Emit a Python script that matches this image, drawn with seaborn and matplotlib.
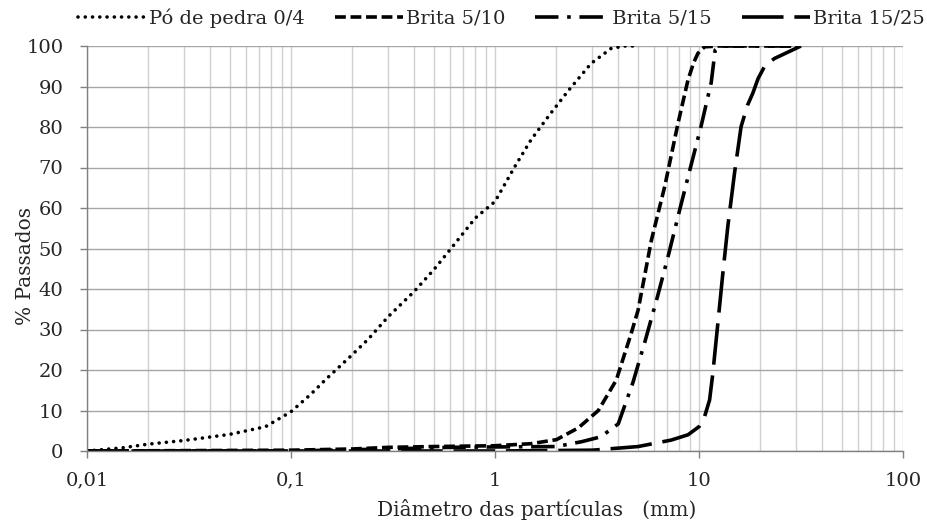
import numpy as np
import pandas as pd
import matplotlib
matplotlib.use("Agg")
import matplotlib.pyplot as plt
import seaborn as sns
from matplotlib.ticker import FixedLocator, LogLocator, NullFormatter

# ---- data ----
po_x = [0.01, 0.015, 0.02, 0.03, 0.05, 0.075, 0.1, 0.125, 0.149, 0.196, 0.239, 0.3, 0.4, 0.5, 0.6, 0.8, 1.0, 1.25, 1.5, 1.85, 2.29, 2.96, 3.71, 4.3, 5.0]
po_y = [0.0, 0.8, 1.7, 2.6, 4.1, 6.0, 9.7, 14.0, 17.8, 23.4, 27.6, 33.2, 39.3, 44.7, 49.6, 57.5, 61.6, 70.2, 76.8, 83.0, 89.0, 95.7, 99.4, 100.0, 100.0]

b510_x = [0.01, 0.1, 0.2, 0.3, 0.5, 1.0, 1.5, 2.0, 2.56, 3.21, 3.93, 4.65, 5.03, 5.84, 6.79, 7.89, 8.83, 9.4, 9.88, 10.65, 12.5, 31.5]
b510_y = [0.0, 0.2, 0.5, 0.9, 1.1, 1.3, 1.8, 2.8, 5.7, 10.0, 17.5, 29.0, 34.8, 52.0, 65.3, 80.9, 91.6, 95.8, 98.2, 99.8, 100.0, 100.0]

b515_x = [0.01, 0.1, 0.3, 0.6, 1.0, 2.0, 2.66, 3.3, 4.02, 4.75, 5.46, 6.25, 7.1, 8.0, 9.06, 10.25, 11.48, 12.0, 12.8, 31.5]
b515_y = [0.0, 0.0, 0.5, 0.9, 1.0, 1.1, 2.3, 3.5, 6.7, 17.0, 27.4, 38.0, 48.6, 59.1, 69.8, 80.3, 91.0, 99.0, 100.0, 100.0]

b1525_x = [0.01, 1.0, 3.0, 5.03, 7.31, 8.83, 10.0, 10.65, 11.27, 11.69, 12.37, 13.09, 13.84, 14.93, 16.08, 17.3, 18.34, 19.5, 20.93, 23.4, 31.6]
b1525_y = [0.0, 0.0, 0.2, 1.1, 2.7, 4.0, 6.0, 8.5, 12.6, 19.2, 31.5, 43.9, 55.4, 68.6, 80.1, 85.4, 88.3, 92.0, 94.9, 96.9, 100.0]

labels = ["Pó de pedra 0/4", "Brita 5/10", " Brita 5/15", "Brita 15/25"]
x_ticks = [0.01, 0.1, 1, 10, 100]
x_ticklabels = ["0,01", "0,1", "1", "10", "100"]
y_ticks = list(range(0, 101, 10))

sns.set_theme(style="white")
plt.rcParams["font.family"] = ["DejaVu Serif"]

W, H = 927, 522
fig = plt.figure(figsize=(W / 100, H / 100), dpi=100)
ax = fig.add_axes([87 / W, 1 - 451 / H, (903 - 87) / W, (451 - 46) / H])

series = [(po_x, po_y), (b510_x, b510_y), (b515_x, b515_y), (b1525_x, b1525_y)]
styles = [
    dict(linestyle=(0, (0.01, 2.0)), dash_capstyle="round"),
    dict(linestyle=(0, (3.0, 1.3)), dash_capstyle="butt"),
    dict(linestyle=(0, (6.5, 2.4, 1.0, 2.4)), dash_capstyle="butt"),
    dict(linestyle=(0, (11.5, 3.0)), dash_capstyle="butt"),
]
lw = 2.6
for (xs, ys), lab, st in zip(series, labels, styles):
    df = pd.DataFrame({"d": xs, "p": ys})
    sns.lineplot(data=df, x="d", y="p", ax=ax, color="black", linewidth=lw,
                 sort=False, estimator=None, label=lab, **st)

ax.set_xscale("log")
ax.set_xlim(0.01, 100)
ax.set_ylim(0, 100)
ax.xaxis.set_major_locator(FixedLocator(x_ticks))
ax.set_xticklabels(x_ticklabels)
ax.xaxis.set_minor_locator(LogLocator(base=10, subs=np.arange(2, 10)))
ax.xaxis.set_minor_formatter(NullFormatter())
ax.set_yticks(y_ticks)

ax.grid(True, which="major", axis="y", color="#a6a6a6", lw=1.0)
ax.grid(True, which="both", axis="x", color="#d0d0d0", lw=1.0)
ax.set_axisbelow(True)

for s in ["top", "right"]:
    ax.spines[s].set_visible(False)
for s in ["left", "bottom"]:
    ax.spines[s].set_color("#808080")
    ax.spines[s].set_linewidth(1.0)

ax.tick_params(axis="x", which="major", direction="out", length=5, width=1,
               color="#808080", labelsize=14, pad=10, bottom=True)
ax.tick_params(axis="x", which="minor", length=0)
ax.tick_params(axis="y", which="major", direction="out", length=5, width=1,
               color="#808080", labelsize=14, pad=12, left=True)

ax.set_xlabel("Diâmetro das partículas   (mm)", fontsize=14.5)
ax.xaxis.set_label_coords((537 - 87) / 816, -(510 - 451) / 405)
ax.xaxis.label.set_va("center")
ax.set_ylabel("% Passados", fontsize=14.5)
ax.yaxis.set_label_coords(-(87 - 26) / 816, (451 - 266) / 405)
ax.yaxis.label.set_va("center")

# legend: fit to the span measured on the reference (x 78 .. 925)
handles, labs = ax.get_legend_handles_labels()
if ax.get_legend():
    ax.get_legend().remove()
leg_kw = dict(loc="center left", bbox_to_anchor=(78 / W, 1 - 18 / H),
              bbox_transform=fig.transFigure, ncol=4, frameon=False, fontsize=14,
              handlelength=3.5, handletextpad=0.15, borderaxespad=0.0, borderpad=0.0)
colsp = 1.0
leg = fig.legend(handles, labs, columnspacing=colsp, **leg_kw)
fig.canvas.draw()
w = leg.get_window_extent().width
fs_px = 14 * 100 / 72
colsp = max(0.3, colsp + (847 - w) / 3 / fs_px)
leg.remove()
leg = fig.legend(handles, labs, columnspacing=colsp, **leg_kw)

fig.savefig("out.png", dpi=100)
